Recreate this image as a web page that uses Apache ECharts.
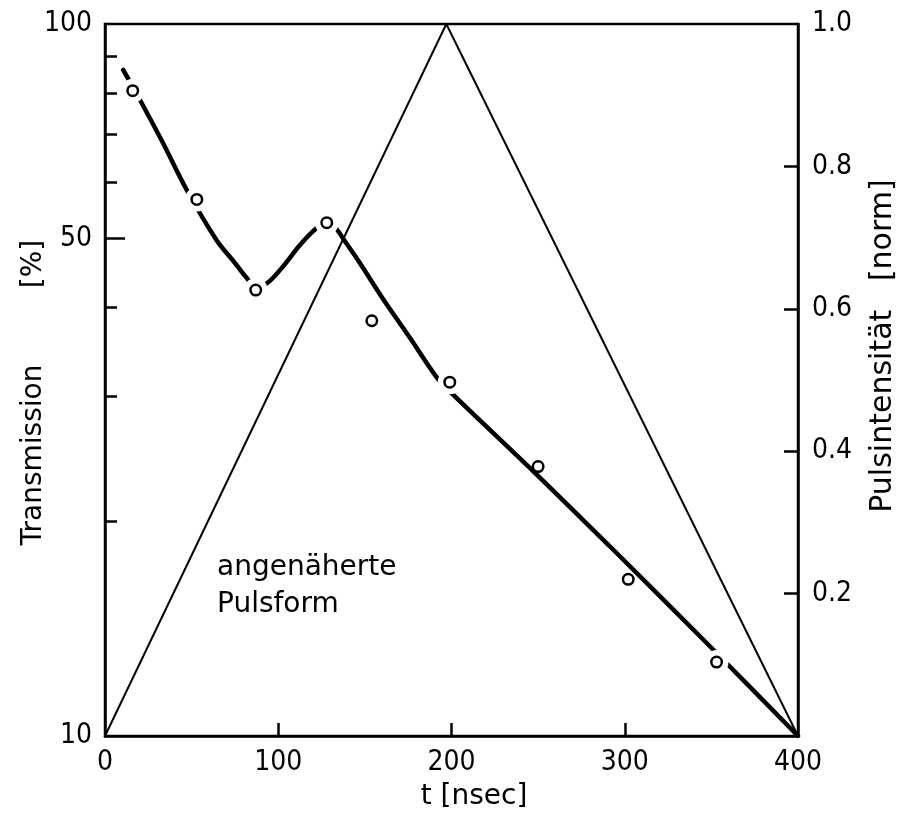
<!DOCTYPE html>
<html>
<head>
<meta charset="utf-8">
<script src="https://cdn.jsdelivr.net/npm/echarts@6/dist/echarts.min.js"></script>
<style>
  html, body { margin: 0; padding: 0; background: #fff; }
  #main { width: 902px; height: 817px; }
</style>
</head>
<body>
<div id="main"></div>
<script>
// Messpunkte: t [nsec], Transmission [%]
var pointT  = [16, 53, 87, 128, 154, 199, 250, 302, 353];
var pointTr = [80.6, 56.7, 42.3, 52.6, 38.3, 31.4, 23.9, 16.6, 12.7];
// an diesen Punkten ist die Kurve unterbrochen
var gapIdx = [0, 1, 2, 3, 5, 8];

// ausgeglichene Kurve
var curveT  = [10.5, 20.2, 33.4, 47.1, 64.4, 74.9, 81.7, 87.6, 93.9, 102.6, 112.4, 122.2, 128, 133.1, 138.3, 147, 160.2, 175.8, 191.9, 200.6, 246.7, 291.1, 348.7, 400];
var curveTr = [86.2, 78.2, 68.1, 58.5, 49.7, 46.2, 44.0, 42.7, 43.3, 45.6, 48.9, 51.7, 52.5, 51.7, 49.6, 46.2, 41.2, 36.3, 31.8, 30.2, 23.6, 18.5, 13.4, 10.0];

// angenaeherte Pulsform (norm)
var pulseT = [0, 197, 400];
var pulseI = [0, 1, 0];

// Achsen
var tLabels = [0, 100, 200, 300, 400];
var tTicks = [100, 200, 300];
var trLabels = [10, 50, 100];
var trTicks = [20, 30, 40, 60, 70, 80, 90];
var trLongTick = [50];
var pulseLabels = [0.2, 0.4, 0.6, 0.8, 1.0];
var pulseTicks = [0.2, 0.4, 0.6, 0.8];

var numFont = "'DejaVu Sans Condensed', 'DejaVu Sans', sans-serif";
var txtFont = "'DejaVu Sans', sans-serif";
var ink = '#000';

function zip(a, b) {
  return a.map(function (v, i) { return [v, b[i]]; });
}

var chart = echarts.init(document.getElementById('main'), null, { renderer: 'canvas' });

var option = {
  backgroundColor: '#fff',
  animation: false,
  grid: {
    left: 105, right: 104, top: 24, bottom: 81,
    show: true, borderColor: ink, borderWidth: 2.5, backgroundColor: 'transparent'
  },
  xAxis: {
    type: 'value', min: 0, max: 400, interval: 100,
    axisLine: { lineStyle: { color: ink, width: 2.5 } },
    axisTick: { inside: true, length: 13, customValues: tTicks, lineStyle: { color: ink, width: 2.5 } },
    axisLabel: { customValues: tLabels, color: ink, fontSize: 28, fontFamily: numFont, margin: 13 },
    splitLine: { show: false }
  },
  yAxis: [{
    // Transmission, logarithmisch
    type: 'log', logBase: 10, min: 10, max: 100, position: 'left',
    axisLine: { show: true, lineStyle: { color: ink, width: 2.5 } },
    axisTick: { inside: true, length: 12, customValues: trTicks, lineStyle: { color: ink, width: 2.5 } },
    axisLabel: { customValues: trLabels, color: ink, fontSize: 28, fontFamily: numFont, margin: 13 },
    splitLine: { show: false }
  }, {
    // Pulsintensitaet
    type: 'value', min: 0, max: 1, interval: 0.2, position: 'right',
    axisLine: { show: true, lineStyle: { color: ink, width: 2.5 } },
    axisTick: { inside: true, length: 14, customValues: pulseTicks, lineStyle: { color: ink, width: 2.5 } },
    axisLabel: {
      customValues: pulseLabels,
      color: ink, fontSize: 28, fontFamily: numFont, margin: 14,
      formatter: function (v) { return v.toFixed(1); }
    },
    splitLine: { show: false }
  }, {
    // nur der lange Strich bei 50
    type: 'log', logBase: 10, min: 10, max: 100, position: 'left',
    axisLine: { show: false },
    axisTick: { show: true, inside: true, length: 20, customValues: trLongTick, lineStyle: { color: ink, width: 2.5 } },
    axisLabel: { show: false },
    splitLine: { show: false }
  }],
  series: [{
    name: 'Pulsform',
    type: 'line',
    yAxisIndex: 1,
    data: zip(pulseT, pulseI),
    symbol: 'none',
    lineStyle: { color: ink, width: 2 },
    z: 2
  }, {
    name: 'Kurve',
    type: 'line',
    yAxisIndex: 0,
    data: zip(curveT, curveTr),
    smooth: 0.3,
    symbol: 'none',
    lineStyle: { color: ink, width: 4.5, cap: 'round' },
    z: 3
  }, {
    name: 'Luecke',
    type: 'scatter',
    yAxisIndex: 0,
    data: gapIdx.map(function (i) { return [pointT[i], pointTr[i]]; }),
    symbol: 'circle',
    symbolSize: 24,
    itemStyle: { color: '#fff', opacity: 1 },
    silent: true,
    z: 4
  }, {
    name: 'Messung',
    type: 'scatter',
    yAxisIndex: 0,
    data: zip(pointT, pointTr),
    symbol: 'circle',
    symbolSize: 10.5,
    itemStyle: { color: '#fff', borderColor: ink, borderWidth: 2.5, opacity: 1 },
    z: 5
  }],
  graphic: [
    { type: 'text', x: 34, y: 455, rotation: Math.PI / 2,
      style: { text: 'Transmission', font: '28px ' + txtFont, fill: ink, align: 'center', verticalAlign: 'middle', textAlign: 'center', textVerticalAlign: 'middle' } },
    { type: 'text', x: 34, y: 264, rotation: Math.PI / 2,
      style: { text: '[%]', font: '28px ' + txtFont, fill: ink, align: 'center', verticalAlign: 'middle', textAlign: 'center', textVerticalAlign: 'middle' } },
    { type: 'text', x: 883, y: 346, rotation: Math.PI / 2,
      style: { text: 'Pulsintensität   [norm]', font: '30px ' + txtFont, fill: ink, align: 'center', verticalAlign: 'middle', textAlign: 'center', textVerticalAlign: 'middle' } },
    { type: 'text', x: 474, y: 797,
      style: { text: 't [nsec]', font: '28px ' + txtFont, fill: ink, align: 'center', verticalAlign: 'middle', textAlign: 'center', textVerticalAlign: 'middle' } },
    { type: 'text', x: 217, y: 568,
      style: { text: 'angenäherte', font: '28px ' + txtFont, fill: ink, align: 'left', verticalAlign: 'middle', textAlign: 'left', textVerticalAlign: 'middle' } },
    { type: 'text', x: 217, y: 605,
      style: { text: 'Pulsform', font: '28px ' + txtFont, fill: ink, align: 'left', verticalAlign: 'middle', textAlign: 'left', textVerticalAlign: 'middle' } }
  ]
};

chart.setOption(option);
</script>
</body>
</html>
